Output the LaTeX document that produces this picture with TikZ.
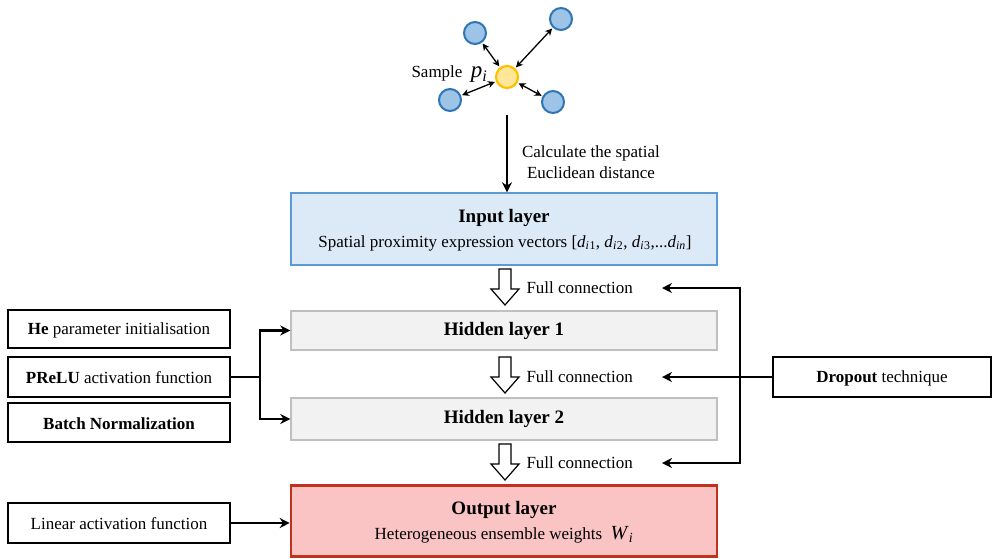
\documentclass[tikz,border=0pt]{standalone}
\usepackage{fontspec}
\setmainfont{Liberation Serif}
\usetikzlibrary{arrows.meta,calc}
\definecolor{inFill}{RGB}{220,233,246}
\definecolor{inDraw}{RGB}{91,155,213}
\definecolor{hidFill}{RGB}{242,242,242}
\definecolor{hidDraw}{RGB}{191,191,191}
\definecolor{outFill}{RGB}{250,196,196}
\definecolor{outDraw}{RGB}{192,50,30}
\definecolor{nodeBlue}{RGB}{157,195,230}
\definecolor{nodeBlueD}{RGB}{46,117,182}
\definecolor{nodeYel}{RGB}{255,230,153}
\definecolor{nodeYelD}{RGB}{255,192,0}
\newcommand{\isub}[2]{\textit{#1}\textsubscript{\textit{#2}}}
\tikzset{
  body/.style={font=\fontsize{17}{20}\selectfont},
  ttl/.style={font=\bfseries\fontsize{19}{22}\selectfont},
  layerbox/.style={draw, minimum width=426pt, inner sep=0pt},
  sidebox/.style={draw=black, line width=2.2pt, minimum width=222pt, inner sep=0pt, fill=white},
  conn/.style={line width=2.8pt, line join=miter, -{Stealth[length=10pt,width=10pt]}},
  plain/.style={line width=2.8pt},
  bluenode/.style={circle, draw=nodeBlueD, fill=nodeBlue, line width=2pt, minimum size=22pt, inner sep=0pt},
  yelnode/.style={circle, draw=nodeYelD, fill=nodeYel, line width=2.2pt, minimum size=22pt, inner sep=0pt},
  dbl/.style={line width=1.3pt, {Stealth[length=7pt,width=7pt]}-{Stealth[length=7pt,width=7pt]}, shorten <=1pt, shorten >=1pt},
  downarrow/.pic={\draw[line width=1.2pt, fill=white] (-6,0) -- (-6,20) -- (-14,20) -- (0,36) -- (14,20) -- (6,20) -- (6,0) -- cycle;}
}
\begin{document}
\begin{tikzpicture}[x=1pt,y=-1pt]
\useasboundingbox (0,0) rectangle (993,558);
% sample graph
\node[yelnode] (p) at (507,77) {};
\node[bluenode] (b1) at (475,33) {};
\node[bluenode] (b2) at (561,19) {};
\node[bluenode] (b3) at (450,100) {};
\node[bluenode] (b4) at (553,102) {};
\foreach \b in {b1,b2,b3,b4} \draw[dbl] (p) -- (\b);
\node[body, anchor=east] (slab) at (491,74) {Sample\ \ {\fontsize{23}{23}\selectfont\textit{p}\textsubscript{\textit{i}}}};
% arrow to input
\coordinate (sa) at (507,115);
\node[layerbox, draw=inDraw, fill=inFill, line width=1.4pt, minimum height=72pt] (in) at (504,229) {};
\draw[conn] (sa) -- (sa |- in.north);
\node[body, align=center] (calc) at (591,162) {Calculate the spatial\\[1pt]Euclidean distance};
\node[ttl] (intitle) at (504,218) {Input layer};
\node[body] (insub) at (505,243) {Spatial proximity expression vectors [\isub{d}{i}\textsubscript{1}, \isub{d}{i}\textsubscript{2}, \isub{d}{i}\textsubscript{3},...\isub{d}{in}]};
% hidden layers
\node[layerbox, draw=hidDraw, fill=hidFill, line width=1.4pt, minimum height=39pt] (h1) at (504,330.5) {};
\node[ttl] at (h1.center) {Hidden layer 1};
\node[layerbox, draw=hidDraw, fill=hidFill, line width=1.4pt, minimum height=42pt] (h2) at (504,419) {};
\node[ttl] at (h2.center) {Hidden layer 2};
% output
\node[layerbox, draw=outDraw, fill=outFill, line width=2.6pt, minimum height=71pt] (out) at (504,521) {};
\node[ttl] (outtitle) at (504,510) {Output layer};
\node[body] (outsub) at (504,535) {Heterogeneous ensemble weights\ \ {\fontsize{20}{20}\selectfont\textit{W}\textsubscript{\textit{i}}}};
% block arrows and labels
\pic at (505,269) {downarrow};
\pic at (505,357) {downarrow};
\pic at (505,444) {downarrow};
\node[body, anchor=west] (fc1) at (523,288) {Full connection};
\node[body, anchor=west] (fc2) at (523,377) {Full connection};
\node[body, anchor=west] (fc3) at (523,463) {Full connection};
% dropout
\node[sidebox, minimum width=218pt, minimum height=40pt] (drop) at (882,377) {};
\node[body] at ($(drop.center)+(0,1)$) {\textbf{Dropout} technique};
\coordinate (e1) at (662,288);
\coordinate (e2) at (662,377);
\coordinate (e3) at (662,463);
\coordinate (vt) at (740,288);
\coordinate (vb) at (740,463);
\draw[conn] (drop.west) -- (e2);
\draw[plain, line cap=rect] (vt) -- (vb);
\draw[conn] (vt) -- (e1);
\draw[conn] (vb) -- (e3);
% left boxes
\node[sidebox, minimum height=38pt] (he) at (119,329) {};
\node[body] at ($(he.center)+(0,1)$) {\textbf{He} parameter initialisation};
\node[sidebox, minimum height=40pt] (pr) at (119,377) {};
\node[body] at ($(pr.center)+(0,1)$) {\textbf{PReLU} activation function};
\node[sidebox, minimum height=39pt] (bn) at (119,422.5) {};
\node[body] at ($(bn.center)+(0,1)$) {\textbf{Batch Normalization}};
\node[sidebox, minimum height=40pt] (lin) at (119,523) {};
\node[body] at ($(lin.center)+(0,1)$) {Linear activation function};
\coordinate (jl) at (260,377);
\draw[plain] (pr.east) -- (jl);
\draw[conn] (jl) |- (h1.west);
\draw[conn] (jl) |- (h2.west);
\draw[conn] (lin.east) -- (lin.east -| out.west);
\end{tikzpicture}
\end{document}
